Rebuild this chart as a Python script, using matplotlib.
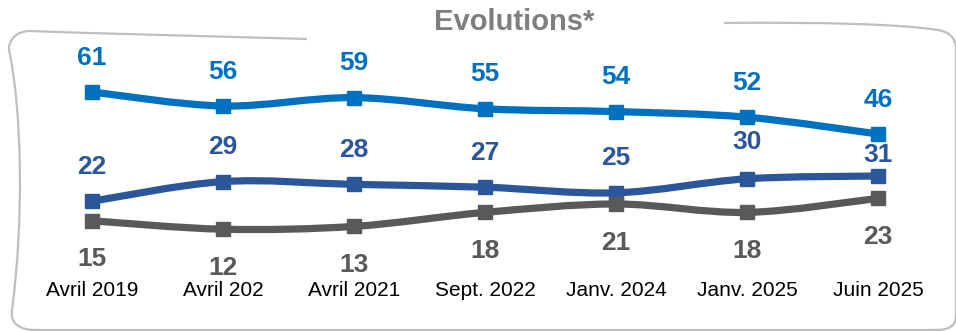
import numpy as np
import matplotlib.pyplot as plt
from matplotlib.path import Path
from matplotlib.patches import PathPatch
from matplotlib.transforms import blended_transform_factory

plt.rcParams['font.family'] = ['Liberation Sans', 'DejaVu Sans']

periods = ['Avril 2019', 'Avril 202', 'Avril 2021', 'Sept. 2022',
           'Janv. 2024', 'Janv. 2025', 'Juin 2025']
serie_haut = [61, 56, 59, 55, 54, 52, 46]
serie_milieu = [22, 29, 28, 27, 25, 30, 31]
serie_bas = [15, 12, 13, 18, 21, 18, 23]

col_haut = '#0070C0'
col_milieu = '#2B579A'
col_bas = '#595959'


def smooth_path(xs, ys):
    # courbe lissee facon Excel (bezier type catmull-rom)
    pts = np.column_stack([xs, ys]).astype(float)
    n = len(pts)
    verts = [pts[0]]
    codes = [Path.MOVETO]
    for i in range(n - 1):
        p0 = pts[i - 1] if i > 0 else pts[i]
        p1 = pts[i]
        p2 = pts[i + 1]
        p3 = pts[i + 2] if i + 2 < n else pts[i + 1]
        c1 = p1 + (p2 - p0) / 6.0
        c2 = p2 - (p3 - p1) / 6.0
        verts += [c1, c2, p2]
        codes += [Path.CURVE4] * 3
    return Path(verts, codes)


fig = plt.figure(figsize=(9.56, 3.31), dpi=100)
ax = fig.add_axes([0, 0, 1, 1])
ax.set_xlim(-92 / 131, 6 + 78 / 131)
ax.set_ylim(61 - 239 / 2.8, 61 + 92 / 2.8)
ax.axis('off')

x = np.arange(len(periods))
series = [(serie_haut, col_haut), (serie_milieu, col_milieu), (serie_bas, col_bas)]
for vals, col in series:
    ax.add_patch(PathPatch(smooth_path(x, vals), fill=False, edgecolor=col,
                           lw=5.2, capstyle='butt', zorder=3))
    ax.plot(x, vals, ls='none', marker='s', ms=10.5, color=col, zorder=4)

# etiquettes de valeurs
off_haut = [12.3] * 7
off_milieu = [12.3, 12.3, 12.3, 12.3, 12.3, 13, 7.5]
off_bas = [-13.8] * 7
for vals, col, offs in [(serie_haut, col_haut, off_haut),
                        (serie_milieu, col_milieu, off_milieu),
                        (serie_bas, col_bas, off_bas)]:
    for xi, v, o in zip(x, vals, offs):
        ax.text(xi, v + o, str(v), ha='center', va='center', fontsize=19,
                fontweight='bold', color=col, zorder=5)

trans = blended_transform_factory(ax.transData, ax.transAxes)
for xi, lab in zip(x, periods):
    ax.text(xi, 1 - 290 / 331, lab, transform=trans, ha='center', va='center',
            fontsize=15, color='black')

# cadre dessine a la main
ov = fig.add_axes([0, 0, 1, 1], zorder=-1)
ov.set_xlim(0, 956)
ov.set_ylim(331, 0)
ov.axis('off')
left = Path([(307, 39), (200, 36), (80, 33), (30, 31),
             (15, 31), (8, 42), (9, 50),
             (22, 110), (24, 220), (12, 310),
             (10, 322), (18, 330), (35, 330),
             (940, 330)],
            [Path.MOVETO, Path.CURVE4, Path.CURVE4, Path.CURVE4,
             Path.CURVE4, Path.CURVE4, Path.CURVE4,
             Path.CURVE4, Path.CURVE4, Path.CURVE4,
             Path.CURVE4, Path.CURVE4, Path.CURVE4,
             Path.LINETO])
right = Path([(724, 23), (820, 22), (900, 24), (938, 30),
              (950, 32), (955, 38), (956, 48),
              (956, 315), (956, 327), (948, 330), (935, 330)],
             [Path.MOVETO, Path.CURVE4, Path.CURVE4, Path.CURVE4,
              Path.CURVE4, Path.CURVE4, Path.CURVE4,
              Path.LINETO, Path.CURVE4, Path.CURVE4, Path.CURVE4])
for p in (left, right):
    ov.add_patch(PathPatch(p, fill=False, edgecolor='#BFBFBF', lw=1.6))

fig.text(514 / 956, 1 - 22 / 331, 'Evolutions*', ha='center', va='center',
         fontsize=21, fontweight='bold', color='#7F7F7F')

fig.savefig('out.png', dpi=100)
